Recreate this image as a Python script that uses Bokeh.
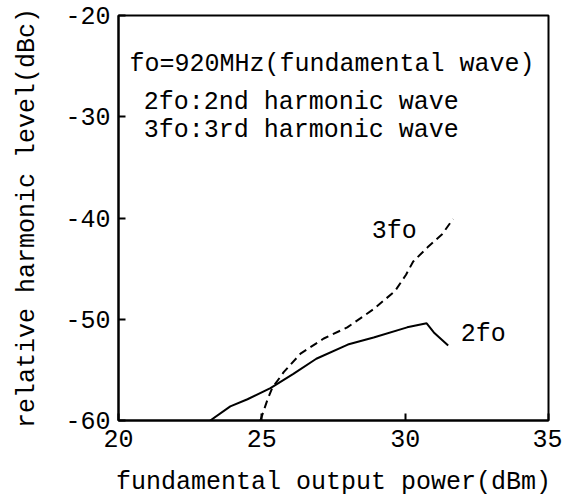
from bokeh.plotting import figure
from bokeh.models import FixedTicker, Range1d
from bokeh.core.properties import value
from bokeh.embed import file_html
from bokeh.resources import INLINE

FONT = "Liberation Mono"

# x: fundamental output power (dBm), y: relative harmonic level (dBc)
x_2fo = [23.2, 23.9, 24.5, 25.3, 26.1, 26.9, 28.0, 28.9, 30.07, 30.75, 31.0, 31.5]
y_2fo = [-60.0, -58.6, -57.9, -56.8, -55.4, -53.9, -52.5, -51.8, -50.8, -50.4, -51.3, -52.6]

x_3fo = [24.95, 25.19, 25.36, 25.77, 26.35, 27.16, 27.98, 28.9, 29.65, 30.03, 30.28, 30.78, 31.29, 31.67]
y_3fo = [-60.0, -58.0, -56.8, -55.2, -53.4, -51.9, -50.8, -49.0, -47.2, -45.6, -44.3, -42.9, -41.6, -40.1]

x_ticks = [20, 25, 30, 35]
x_tick_labels = ["20", "25", "30", "35"]
y_ticks = [-20, -30, -40, -50, -60]
y_tick_labels = ["-20", "-30", "-40", "-50", "-60"]

notes = ["fo=920MHz(fundamental wave)", "2fo:2nd harmonic wave", "3fo:3rd harmonic wave"]
notes_x = [20.38, 20.88, 20.88]
notes_y = [-24.8, -28.6, -31.4]

curve_labels = ["3fo", "2fo"]
curve_labels_x = [28.83, 31.94]
curve_labels_y = [-41.3, -51.5]

p = figure(width=562, height=499, output_backend="svg", toolbar_location=None,
           x_range=Range1d(20, 35), y_range=Range1d(-60, -20),
           min_border_left=118, min_border_right=14, min_border_top=15, min_border_bottom=79)

p.background_fill_color = "white"
p.border_fill_color = "white"
p.outline_line_color = "black"
p.outline_line_width = 2
p.xgrid.visible = False
p.ygrid.visible = False

p.line(x_2fo, y_2fo, line_color="black", line_width=2)
p.line(x_3fo, y_3fo, line_color="black", line_width=2, line_dash="8 5")

p.text(x=notes_x, y=notes_y, text=notes, text_font=value(FONT), text_font_size="25px",
       text_baseline="middle", text_align="left", text_color="black")
p.text(x=curve_labels_x, y=curve_labels_y, text=curve_labels, text_font=value(FONT),
       text_font_size="25px", text_baseline="middle", text_align="left", text_color="black")

for ax, ticks, labels in ((p.xaxis[0], x_ticks, x_tick_labels), (p.yaxis[0], y_ticks, y_tick_labels)):
    ax.ticker = FixedTicker(ticks=ticks)
    ax.major_label_overrides = {t: l for t, l in zip(ticks, labels)}
    ax.minor_tick_line_color = None
    ax.major_tick_in = 7
    ax.major_tick_out = 0
    ax.major_tick_line_width = 2
    ax.axis_line_width = 2
    ax.major_label_text_font = FONT
    ax.major_label_text_font_size = "25px"
    ax.major_label_text_color = "black"
    ax.axis_label_text_font = FONT
    ax.axis_label_text_font_size = "25px"
    ax.axis_label_text_font_style = "normal"
    ax.axis_label_text_color = "black"

p.xaxis.axis_label = "fundamental output power(dBm)"
p.yaxis.axis_label = "relative harmonic level(dBc)"
p.xaxis.major_label_standoff = 9
p.yaxis.major_label_standoff = 8
p.xaxis.axis_label_standoff = 18
p.yaxis.axis_label_standoff = 20

open("out.html", "w").write(file_html(p, INLINE))
